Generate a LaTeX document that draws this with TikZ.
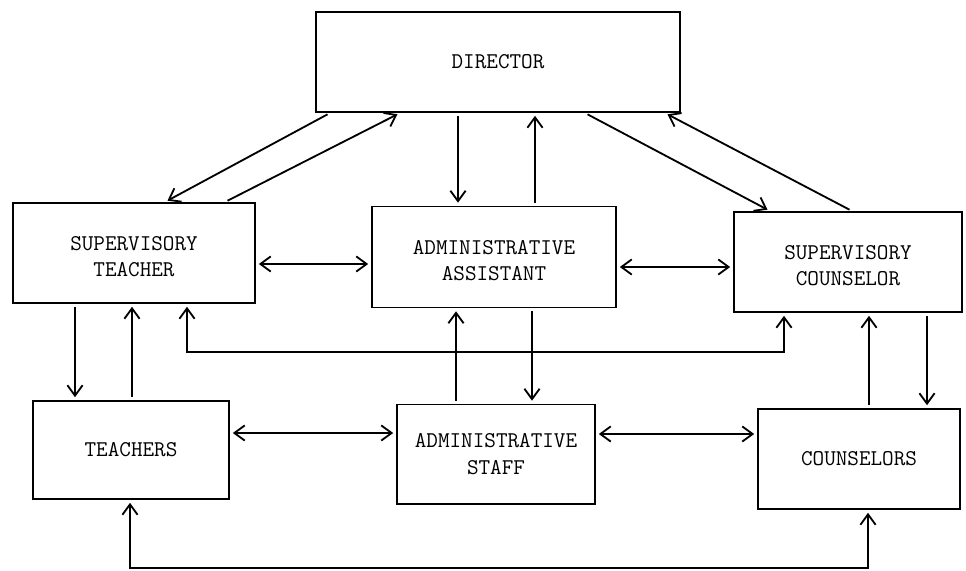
\documentclass[tikz,border=0pt]{standalone}
\usepackage{fontspec}
\usetikzlibrary{arrows.meta}

\begin{document}
\begin{tikzpicture}[x=0.025cm,y=-0.025cm,
    box/.style={draw,line width=1.4pt,inner sep=0pt,align=center,
      font=\ttfamily\fontsize{16}{19}\selectfont},
    link/.style={line width=1.3pt,shorten >=2pt,shorten <=2pt},
    >={Straight Barb[length=2.6mm,width=3.8mm]}]
  \useasboundingbox (0,0) rectangle (966,571);

  \path (498,62) node[box,minimum width=9.075cm,minimum height=2.5cm] (dir) {DIRECTOR};
  \path (134,253) node[box,minimum width=6.05cm,minimum height=2.5cm] (st) {\mbox{}\\[-4pt]SUPERVISORY\\TEACHER};
  \path (494,257) node[box,minimum width=6.1cm,minimum height=2.525cm] (aa) {\mbox{}\\[-4pt]ADMINISTRATIVE\\ASSISTANT};
  \path (848,262) node[box,minimum width=5.7cm,minimum height=2.5cm] (sc) {\mbox{}\\[-4pt]SUPERVISORY\\COUNSELOR};
  \path (131,450) node[box,minimum width=4.9cm,minimum height=2.45cm] (t) {TEACHERS};
  \path (496,454) node[box,minimum width=4.95cm,minimum height=2.475cm] (as) {ADMINISTRATIVE\\STAFF};
  \path (859,459) node[box,minimum width=5.05cm,minimum height=2.5cm] (c) {COUNSELORS};

  \coordinate (mid) at (0,352);
  \coordinate (bot) at (0,568);

  % director links
  \draw[link,->] (330,0 |- dir.south) -- (165,0 |- st.north);
  \draw[link,->] (225,0 |- st.north) -- (400,0 |- dir.south);
  \draw[link,->] (458,0 |- dir.south) -- (458,0 |- aa.north);
  \draw[link,->] (535,0 |- aa.north) -- (535,0 |- dir.south);
  \draw[link,->] (585,0 |- dir.south) -- (770,0 |- sc.north);
  \draw[link,->] (852,0 |- sc.north) -- (665,0 |- dir.south);

  % sideways
  \draw[link,<->] (0,264 -| st.east) -- (0,264 -| aa.west);
  \draw[link,<->] (0,267 -| aa.east) -- (0,267 -| sc.west);
  \draw[link,<->] (0,433 -| t.east) -- (0,433 -| as.west);
  \draw[link,<->] (0,434 -| as.east) -- (0,434 -| c.west);

  % down to the staff
  \draw[link,->] (75,0 |- st.south) -- (75,0 |- t.north);
  \draw[link,->] (132,0 |- t.north) -- (132,0 |- st.south);
  \draw[link,->] (456,0 |- as.north) -- (456,0 |- aa.south);
  \draw[link,->] (532,0 |- aa.south) -- (532,0 |- as.north);
  \draw[link,->] (869,0 |- c.north) -- (869,0 |- sc.south);
  \draw[link,->] (927,0 |- sc.south) -- (927,0 |- c.north);

  % round the back
  \draw[link,<->] (187,0 |- st.south) -- (187,0 |- mid) -- (784,0 |- mid) -- (784,0 |- sc.south);
  \draw[link,<->] (130,0 |- t.south) -- (130,0 |- bot) -- (868,0 |- bot) -- (868,0 |- c.south);
\end{tikzpicture}
\end{document}
